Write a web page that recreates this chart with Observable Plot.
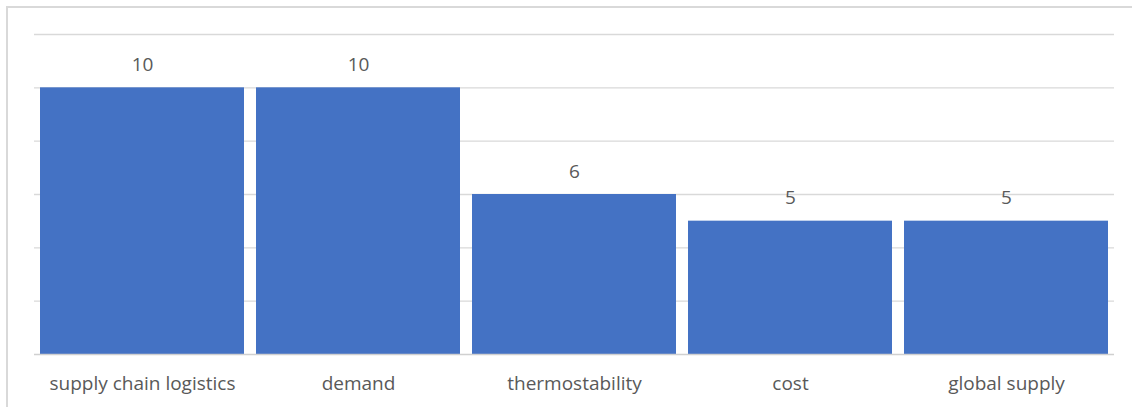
<!DOCTYPE html>
<html>
<head>
<meta charset="utf-8">
<script src="https://cdn.jsdelivr.net/npm/d3@7"></script>
<script src="https://cdn.jsdelivr.net/npm/@observablehq/plot@0.6"></script>
<style>
  html, body { margin: 0; padding: 0; background: #fff; }
  #wrap { position: relative; width: 1132px; height: 407px; overflow: hidden; }
  #edge { position: absolute; left: 6px; top: 6px; width: 1140px; height: 410px;
          border-top: 2px solid #d9d9d9; border-left: 2px solid #d9d9d9; box-sizing: border-box; }
  #chart { position: absolute; left: 0; top: 0; }
</style>
</head>
<body>
<div id="wrap"><div id="edge"></div><div id="chart"></div></div>
<script>
// Mentions per topic
const categories = ["supply chain logistics", "demand", "thermostability", "cost", "global supply"];
const counts = [10, 10, 6, 5, 5];
const yTicks = [0, 2, 4, 6, 8, 10, 12];

const data = categories.map((c, i) => ({category: c, count: counts[i]}));
const font = "'Open Sans', Lato, sans-serif";

const chart = Plot.plot({
  width: 1132,
  height: 407,
  marginLeft: 34,
  marginRight: 18,
  marginTop: 34,
  marginBottom: 53,
  style: {fontFamily: font, fontSize: "19px", color: "#595959", background: "transparent"},
  x: {domain: categories, padding: 0, label: null, axis: null},
  y: {domain: [0, 12], axis: null},
  marks: [
    Plot.ruleY(yTicks.filter(d => d > 0), {stroke: "#d9d9d9", strokeWidth: 1.3}),
    Plot.barY(data, {x: "category", y: "count", fill: "#4472C4", insetLeft: 6, insetRight: 6}),
    Plot.ruleY([0], {stroke: "#d0d0d0", strokeWidth: 1.5}),
    Plot.axisX({tickSize: 0, tickPadding: 22, fontSize: 19, fill: "#595959", label: null}),
    Plot.text(data, {x: "category", y: "count", text: d => String(d.count), lineAnchor: "bottom", dy: -17, fill: "#595959", fontSize: 19})
  ]
});
document.getElementById("chart").appendChild(chart);
</script>
</body>
</html>
